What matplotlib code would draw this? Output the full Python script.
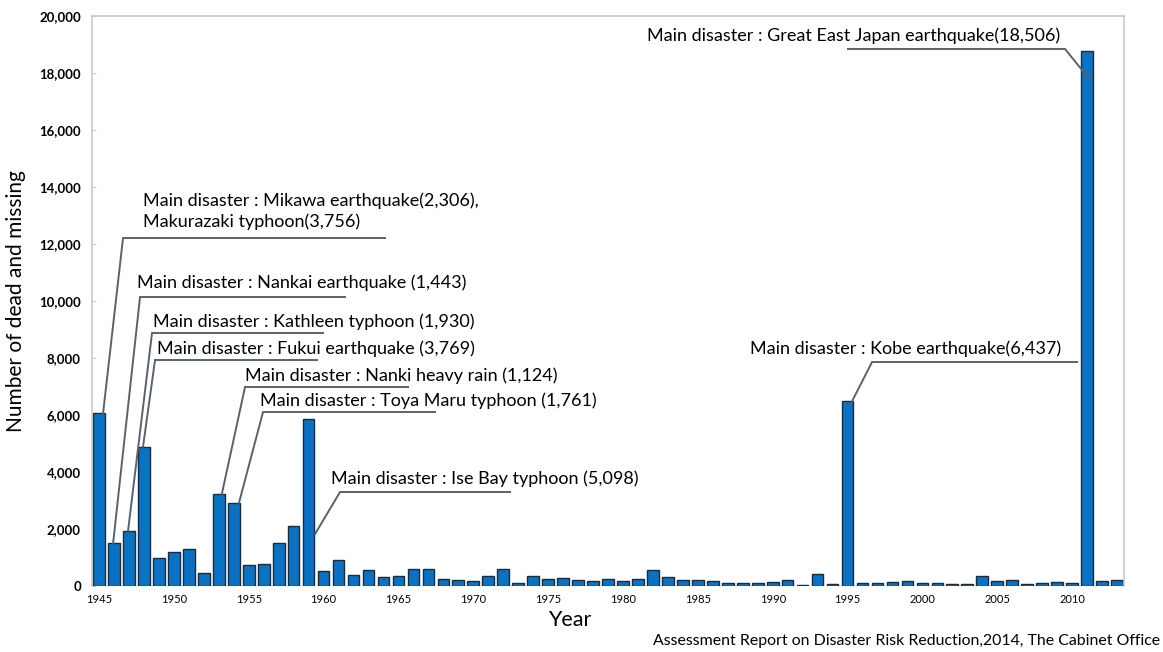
import numpy as np
import matplotlib
matplotlib.use("Agg")
import matplotlib.pyplot as plt

plt.rcParams['font.family'] = ['Lato', 'DejaVu Sans']

# Number of dead and missing per year
years = list(range(1945, 2014))
deaths = [6060, 1500, 1940, 4890, 970, 1200, 1290, 470, 3220, 2920,
          740, 770, 1520, 2120, 5860, 525, 910, 385, 575, 300,
          360, 585, 610, 260, 200, 175, 363, 597, 105, 340,
          234, 292, 210, 175, 234, 164, 246, 550, 316, 222,
          222, 175, 94, 117, 117, 152, 222, 47, 433, 70,
          6480, 94, 94, 129, 164, 94, 105, 82, 82, 340,
          175, 199, 58, 117, 140, 105, 18770, 164, 210]

xtick_years = list(range(1945, 2015, 5))
ytick_values = list(range(0, 20001, 2000))

ann_labels = [
    "Main disaster : Mikawa earthquake(2,306),\nMakurazaki typhoon(3,756)",
    "Main disaster : Nankai earthquake (1,443)",
    "Main disaster : Kathleen typhoon (1,930)",
    "Main disaster : Fukui earthquake (3,769)",
    "Main disaster : Nanki heavy rain (1,124)",
    "Main disaster : Toya Maru typhoon (1,761)",
    "Main disaster : Ise Bay typhoon (5,098)",
    "Main disaster : Kobe earthquake(6,437)",
    "Main disaster : Great East Japan earthquake(18,506)",
]
ann_years = [1945, 1946, 1947, 1948, 1953, 1954, 1959, 1995, 2011]

fig = plt.figure(figsize=(11.63, 6.52), dpi=100)
ax = fig.add_axes([0.0791, 0.1012, 0.8874, 0.8743])

ax.bar(years, deaths, width=0.78, color='#0a72c4', edgecolor='#1c2b3a', linewidth=1.0, zorder=2)

ax.set_xlim(1944.53, 2013.47)
ax.set_ylim(0, 20000)

ax.set_yticks(ytick_values)
ax.set_yticklabels([f"{v:,}" for v in ytick_values], fontsize=9.5, fontweight='bold')
ax.set_xticks(xtick_years)
ax.set_xticklabels([str(y) for y in xtick_years], fontsize=8)
ax.tick_params(axis='y', direction='in', length=3, color='#c8c8c8', pad=8)
ax.tick_params(axis='x', length=0, pad=6)

for side in ['left', 'top', 'right']:
    ax.spines[side].set_color('#c8c8c8')
    ax.spines[side].set_linewidth(1.2)
ax.spines['bottom'].set_visible(False)

ax.set_ylabel("Number of dead and missing", fontsize=15)
ax.yaxis.set_label_coords(-0.0635, 0.5)
ax.set_xlabel("Year", fontsize=15.5)
ax.xaxis.set_label_coords(0.463, -0.042)

fig.text(0.9975, 0.017, "Assessment Report on Disaster Risk Reduction,2014, The Cabinet Office",
         ha='right', va='center', fontsize=11.4)

# pixel -> data helpers for leader-line layout
def px_x(px):
    return 1945 + (px - 99) / 14.97

def px_y(py):
    return (586 - py) / 28.5 * 1000

# per annotation: text left, text center y, elbow x, elbow y, line end x, tip x offset, tip y
layout = [
    (143, 211, 123, 238, 385, 0.27, None),
    (137, 283, 140, 297, 345, -0.06, None),
    (153, 322, 152, 333, 323, -0.06, None),
    (157, 349, 155, 360, 317, -0.06, None),
    (245, 376, 245, 387, 408, 0.2, None),
    (260, 401, 263, 412, 435, 0.35, None),
    (331, 479, 340, 492, 510, 0.43, 1825),
    (750, 349, 872, 362, 1077, 0.3, None),
]
line_col = '#5a636b'
for lab, yr, (tx, ty, ex, ey, lx, dx, tipy) in zip(ann_labels[:-1], ann_years[:-1], layout):
    val = deaths[years.index(yr)]
    tip_y = val if tipy is None else tipy
    ax.plot([yr + dx, px_x(ex), px_x(lx)], [tip_y, px_y(ey), px_y(ey)],
            color=line_col, lw=1.4, zorder=3, solid_joinstyle='miter')
    ax.text(px_x(tx), px_y(ty), lab, fontsize=13, ha='left', va='center',
            linespacing=1.3, zorder=4)

# Great East Japan earthquake: elbow on the right
ax.plot([px_x(848), px_x(1065), 2011.2], [px_y(49), px_y(49), px_y(80)],
        color=line_col, lw=1.4, zorder=3)
ax.text(px_x(1060), px_y(36), ann_labels[-1], fontsize=13, ha='right', va='center', zorder=4)

fig.savefig("out.png", dpi=100)
